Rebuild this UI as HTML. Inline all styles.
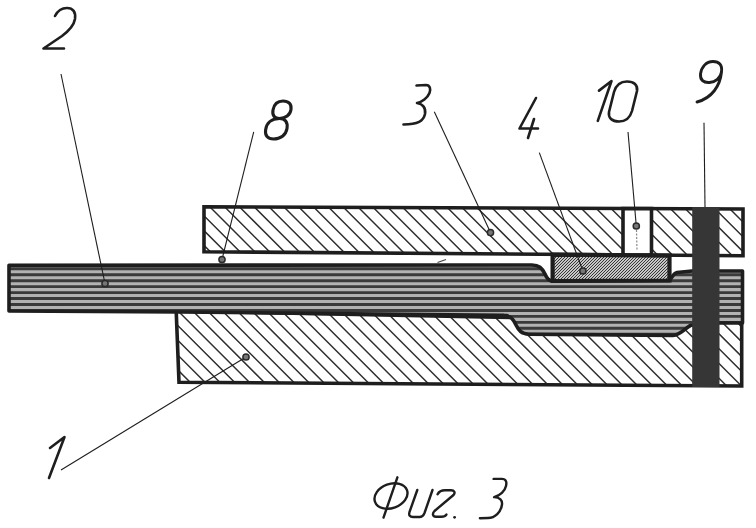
<!DOCTYPE html>
<html><head><meta charset="utf-8"><style>html,body{margin:0;padding:0;background:#ffffff;}svg{display:block}</style></head><body><svg width="756" height="528" viewBox="0 0 756 528"><defs><clipPath id="cub"><path d="M204 206.8 L743 209 L743 255.8 L204 251.7 Z"/></clipPath><clipPath id="clb"><path d="M176.2 311 L741.7 311 L741.7 386 L179 382.3 Z"/></clipPath><clipPath id="cbar"><path d="M9 265.3 L532 265 C539 265 542 268 545 274 C547 279 549 281 552.6 281 L669.5 280.5 C672 278 673 273.5 677 272.5 L692 271 L742.5 271 L742.5 323 L718.7 323 L691 325.2 C686 327 681 335.4 673 335.4 L529 334.2 C521 334.2 518.5 330 516 325 C513.5 320 511 315.4 504 315.4 L500 315.2 L180 312 L9 311 Z"/></clipPath><clipPath id="ce4"><path d="M552.6 254.65168831168833 L669.5 255.5409090909091 L669.5 280.5 L552.6 281 Z"/></clipPath></defs><rect width="756" height="528" fill="#ffffff"/><g clip-path="url(#cub)"><path d="M127.00 198.00L191.00 262.00M141.80 198.00L205.80 262.00M156.60 198.00L220.60 262.00M171.40 198.00L235.40 262.00M186.20 198.00L250.20 262.00M201.00 198.00L265.00 262.00M215.80 198.00L279.80 262.00M230.60 198.00L294.60 262.00M245.40 198.00L309.40 262.00M260.20 198.00L324.20 262.00M275.00 198.00L339.00 262.00M289.80 198.00L353.80 262.00M304.60 198.00L368.60 262.00M319.40 198.00L383.40 262.00M334.20 198.00L398.20 262.00M349.00 198.00L413.00 262.00M363.80 198.00L427.80 262.00M378.60 198.00L442.60 262.00M393.40 198.00L457.40 262.00M408.20 198.00L472.20 262.00M423.00 198.00L487.00 262.00M437.80 198.00L501.80 262.00M452.60 198.00L516.60 262.00M467.40 198.00L531.40 262.00M482.20 198.00L546.20 262.00M497.00 198.00L561.00 262.00M511.80 198.00L575.80 262.00M526.60 198.00L590.60 262.00M541.40 198.00L605.40 262.00M556.20 198.00L620.20 262.00M571.00 198.00L635.00 262.00M585.80 198.00L649.80 262.00M600.60 198.00L664.60 262.00M615.40 198.00L679.40 262.00M630.20 198.00L694.20 262.00M645.00 198.00L709.00 262.00M659.80 198.00L723.80 262.00M674.60 198.00L738.60 262.00M689.40 198.00L753.40 262.00M704.20 198.00L768.20 262.00M719.00 198.00L783.00 262.00M733.80 198.00L797.80 262.00M748.60 198.00L812.60 262.00" stroke="#2e2e2e" stroke-width="1.45" fill="none"/></g><path d="M204 206.8 L743 209 L743 255.8 L204 251.7 Z" fill="none" stroke="#1e1e1e" stroke-width="3.6"/><path d="M623 208.51020408163265 L651.5 208.6265306122449 L651.5 255.1039888682746 L623 254.88719851576994 Z" fill="#ffffff" stroke="#1e1e1e" stroke-width="3.6"/><g clip-path="url(#clb)"><path d="M81.30 303.00L170.30 392.00M96.10 303.00L185.10 392.00M110.90 303.00L199.90 392.00M125.70 303.00L214.70 392.00M140.50 303.00L229.50 392.00M155.30 303.00L244.30 392.00M170.10 303.00L259.10 392.00M184.90 303.00L273.90 392.00M199.70 303.00L288.70 392.00M214.50 303.00L303.50 392.00M229.30 303.00L318.30 392.00M244.10 303.00L333.10 392.00M258.90 303.00L347.90 392.00M273.70 303.00L362.70 392.00M288.50 303.00L377.50 392.00M303.30 303.00L392.30 392.00M318.10 303.00L407.10 392.00M332.90 303.00L421.90 392.00M347.70 303.00L436.70 392.00M362.50 303.00L451.50 392.00M377.30 303.00L466.30 392.00M392.10 303.00L481.10 392.00M406.90 303.00L495.90 392.00M421.70 303.00L510.70 392.00M436.50 303.00L525.50 392.00M451.30 303.00L540.30 392.00M466.10 303.00L555.10 392.00M480.90 303.00L569.90 392.00M495.70 303.00L584.70 392.00M510.50 303.00L599.50 392.00M525.30 303.00L614.30 392.00M540.10 303.00L629.10 392.00M554.90 303.00L643.90 392.00M569.70 303.00L658.70 392.00M584.50 303.00L673.50 392.00M599.30 303.00L688.30 392.00M614.10 303.00L703.10 392.00M628.90 303.00L717.90 392.00M643.70 303.00L732.70 392.00M658.50 303.00L747.50 392.00M673.30 303.00L762.30 392.00M688.10 303.00L777.10 392.00M702.90 303.00L791.90 392.00M717.70 303.00L806.70 392.00M732.50 303.00L821.50 392.00M747.30 303.00L836.30 392.00" stroke="#2e2e2e" stroke-width="1.45" fill="none"/></g><path d="M176.2 311 L741.7 322 L741.7 386 L179 382.3 Z" fill="none" stroke="#1e1e1e" stroke-width="3.6"/><path d="M9 265.3 L532 265 C539 265 542 268 545 274 C547 279 549 281 552.6 281 L669.5 280.5 C672 278 673 273.5 677 272.5 L692 271 L742.5 271 L742.5 323 L718.7 323 L691 325.2 C686 327 681 335.4 673 335.4 L529 334.2 C521 334.2 518.5 330 516 325 C513.5 320 511 315.4 504 315.4 L500 315.2 L180 312 L9 311 Z" fill="#b2b2b2"/><g clip-path="url(#cbar)"><path d="M0 268.80H756M0 274.75H756M0 280.70H756M0 286.65H756M0 292.60H756M0 298.55H756M0 304.50H756M0 310.45H756M0 316.40H756M0 322.35H756M0 328.30H756M0 334.25H756" stroke="#3a3a3a" stroke-width="2.9" fill="none"/></g><path d="M9 265.3 L532 265 C539 265 542 268 545 274 C547 279 549 281 552.6 281 L669.5 280.5 C672 278 673 273.5 677 272.5 L692 271 L742.5 271 L742.5 323 L718.7 323 L691 325.2 C686 327 681 335.4 673 335.4 L529 334.2 C521 334.2 518.5 330 516 325 C513.5 320 511 315.4 504 315.4 L500 315.2 L180 312 L9 311 Z" fill="none" stroke="#1e1e1e" stroke-width="3.6" stroke-linejoin="round"/><path d="M552.6 254.65168831168833 L669.5 255.5409090909091 L669.5 280.5 L552.6 281 Z" fill="#ffffff"/><g clip-path="url(#ce4)"><path d="M550.00 248.00L511.00 287.00M553.00 248.00L514.00 287.00M556.00 248.00L517.00 287.00M559.00 248.00L520.00 287.00M562.00 248.00L523.00 287.00M565.00 248.00L526.00 287.00M568.00 248.00L529.00 287.00M571.00 248.00L532.00 287.00M574.00 248.00L535.00 287.00M577.00 248.00L538.00 287.00M580.00 248.00L541.00 287.00M583.00 248.00L544.00 287.00M586.00 248.00L547.00 287.00M589.00 248.00L550.00 287.00M592.00 248.00L553.00 287.00M595.00 248.00L556.00 287.00M598.00 248.00L559.00 287.00M601.00 248.00L562.00 287.00M604.00 248.00L565.00 287.00M607.00 248.00L568.00 287.00M610.00 248.00L571.00 287.00M613.00 248.00L574.00 287.00M616.00 248.00L577.00 287.00M619.00 248.00L580.00 287.00M622.00 248.00L583.00 287.00M625.00 248.00L586.00 287.00M628.00 248.00L589.00 287.00M631.00 248.00L592.00 287.00M634.00 248.00L595.00 287.00M637.00 248.00L598.00 287.00M640.00 248.00L601.00 287.00M643.00 248.00L604.00 287.00M646.00 248.00L607.00 287.00M649.00 248.00L610.00 287.00M652.00 248.00L613.00 287.00M655.00 248.00L616.00 287.00M658.00 248.00L619.00 287.00M661.00 248.00L622.00 287.00M664.00 248.00L625.00 287.00M667.00 248.00L628.00 287.00M670.00 248.00L631.00 287.00M673.00 248.00L634.00 287.00M676.00 248.00L637.00 287.00M679.00 248.00L640.00 287.00M682.00 248.00L643.00 287.00M685.00 248.00L646.00 287.00M688.00 248.00L649.00 287.00M691.00 248.00L652.00 287.00M694.00 248.00L655.00 287.00M697.00 248.00L658.00 287.00M700.00 248.00L661.00 287.00M703.00 248.00L664.00 287.00M706.00 248.00L667.00 287.00M709.00 248.00L670.00 287.00M712.00 248.00L673.00 287.00" stroke="#2a2a2a" stroke-width="1.05" fill="none"/></g><path d="M552.6 254.65168831168833 L669.5 255.5409090909091 L669.5 280.5 L552.6 281 Z" fill="none" stroke="#1e1e1e" stroke-width="4.2"/><rect x="692.2" y="207" width="27.299999999999955" height="180" fill="#363636"/><line x1="61" y1="74" x2="105" y2="283.5" stroke="#1e1e1e" stroke-width="1.1"/><circle cx="105" cy="283.5" r="3.1" fill="#777" stroke="#2a2a2a" stroke-width="1.5"/><line x1="253.7" y1="131.8" x2="222" y2="259.5" stroke="#1e1e1e" stroke-width="1.1"/><circle cx="222" cy="259.5" r="3.1" fill="#777" stroke="#2a2a2a" stroke-width="1.5"/><line x1="434.3" y1="111.8" x2="490.5" y2="232.6" stroke="#1e1e1e" stroke-width="1.1"/><circle cx="490.5" cy="232.6" r="3.1" fill="#777" stroke="#2a2a2a" stroke-width="1.5"/><line x1="539.3" y1="152.6" x2="582.9" y2="271" stroke="#1e1e1e" stroke-width="1.1"/><circle cx="582.9" cy="271" r="3.1" fill="#777" stroke="#2a2a2a" stroke-width="1.5"/><line x1="628" y1="132" x2="636.3" y2="226" stroke="#1e1e1e" stroke-width="1.1"/><circle cx="636.3" cy="226" r="3.1" fill="#777" stroke="#2a2a2a" stroke-width="1.5"/><line x1="636.5" y1="230" x2="637" y2="251" stroke="#888" stroke-width="1.2" stroke-dasharray="2 1.5"/><line x1="704" y1="122.7" x2="705" y2="207" stroke="#1e1e1e" stroke-width="1.1"/><line x1="61" y1="470" x2="246" y2="357" stroke="#1e1e1e" stroke-width="1.1"/><circle cx="246" cy="357" r="3.1" fill="#777" stroke="#2a2a2a" stroke-width="1.5"/><path d="M437.5 262.5 L446 259.5" stroke="#444" stroke-width="1.3"/><path d="M55 16 C58 10 62 8 67 8 C73 8 76 12 75 19 C74 25 70 30 62 36 L43.5 48.5 L64 48.5" fill="none" stroke="#1e1e1e" stroke-width="2.6" stroke-linecap="round" stroke-linejoin="round"/><path d="M283 101 C288.5 101 291.8 104 291 109.5 C290.2 115 285.5 118.5 279.5 118.5 C274.5 118.5 272 115.5 273 110 C274 104.5 277.5 101 283 101 Z" fill="none" stroke="#1e1e1e" stroke-width="3.1" stroke-linecap="round" stroke-linejoin="round"/><path d="M279.5 118.5 C285 118.5 288 122 287 128.5 C286 135 280.5 139 273.5 139 C267.5 139 264.8 135.5 265.6 130 C266.5 123 271.5 118.5 279.5 118.5 Z" fill="none" stroke="#1e1e1e" stroke-width="3.1" stroke-linecap="round" stroke-linejoin="round"/><path d="M416.5 85.5 L426 85 C430 85 431 89 429.5 93 C427.5 98 422 102 417 103 C423 104 426 108 425 114 C423.5 121 418 124.5 403.5 124.5" fill="none" stroke="#1e1e1e" stroke-width="2.6" stroke-linecap="round" stroke-linejoin="round"/><path d="M536 98 L519.5 128.5 L538 128.5 M534 119 L528 138" fill="none" stroke="#1e1e1e" stroke-width="2.6" stroke-linecap="round" stroke-linejoin="round"/><path d="M599 90.6 L611.5 81 L597.8 120.8" fill="none" stroke="#1e1e1e" stroke-width="2.6" stroke-linecap="round" stroke-linejoin="round"/><path d="M627 81.5 C634 81.5 638 85 637 91 L632 111 C630 118 625 121.5 619 121.5 C612 121.5 608 118 609 112 L614 92 C616 85 620 81.5 627 81.5 Z" fill="none" stroke="#1e1e1e" stroke-width="2.6" stroke-linecap="round" stroke-linejoin="round"/><path d="M721.5 72 C722.5 64.5 719 61.5 713 61.5 C706 61.5 701.5 67 700.5 74 C700 80 703.5 83 709.5 82.5 C715.5 82 720.5 78 721.5 72 C720 86 712 98 697 102" fill="none" stroke="#1e1e1e" stroke-width="2.9" stroke-linecap="round" stroke-linejoin="round"/><path d="M50 448 L64.5 437 L49 478" fill="none" stroke="#1e1e1e" stroke-width="2.6" stroke-linecap="round" stroke-linejoin="round"/><path d="M397.4 477.3 L383.5 517.6" fill="none" stroke="#1e1e1e" stroke-width="2.4" stroke-linecap="round" stroke-linejoin="round"/><ellipse cx="391" cy="496" rx="17" ry="12" transform="rotate(-20 391 496)" fill="none" stroke="#1e1e1e" stroke-width="2.4"/><path d="M417.3 490 L409.5 512 C408.5 515.5 410 517 413 517 L419.5 517 C422 517 423.5 515.5 424.5 513 L432.5 490" fill="none" stroke="#1e1e1e" stroke-width="2.4" stroke-linecap="round" stroke-linejoin="round"/><path d="M437.6 494.3 C439 491.5 441.5 490.3 445 490.3 L451 490.3 C454.5 490.3 455.5 492.5 453.5 495 L434.5 511 C432 513.5 432.5 516.8 436 516.8 L441.5 516.8 C444 516.8 445.5 516 446.4 514.6" fill="none" stroke="#1e1e1e" stroke-width="2.4" stroke-linecap="round" stroke-linejoin="round"/><circle cx="454.6" cy="517.3" r="1.4" fill="#1e1e1e"/><path d="M493.6 478.9 L502 478.9 C506 478.9 507 482 506 486 C505 491 500 495.5 494.1 497.1 C500 497.5 502.5 500 502 504.5 C501 512 495 518 488 518 L479.9 518.3" fill="none" stroke="#1e1e1e" stroke-width="2.4" stroke-linecap="round" stroke-linejoin="round"/></svg></body></html>
